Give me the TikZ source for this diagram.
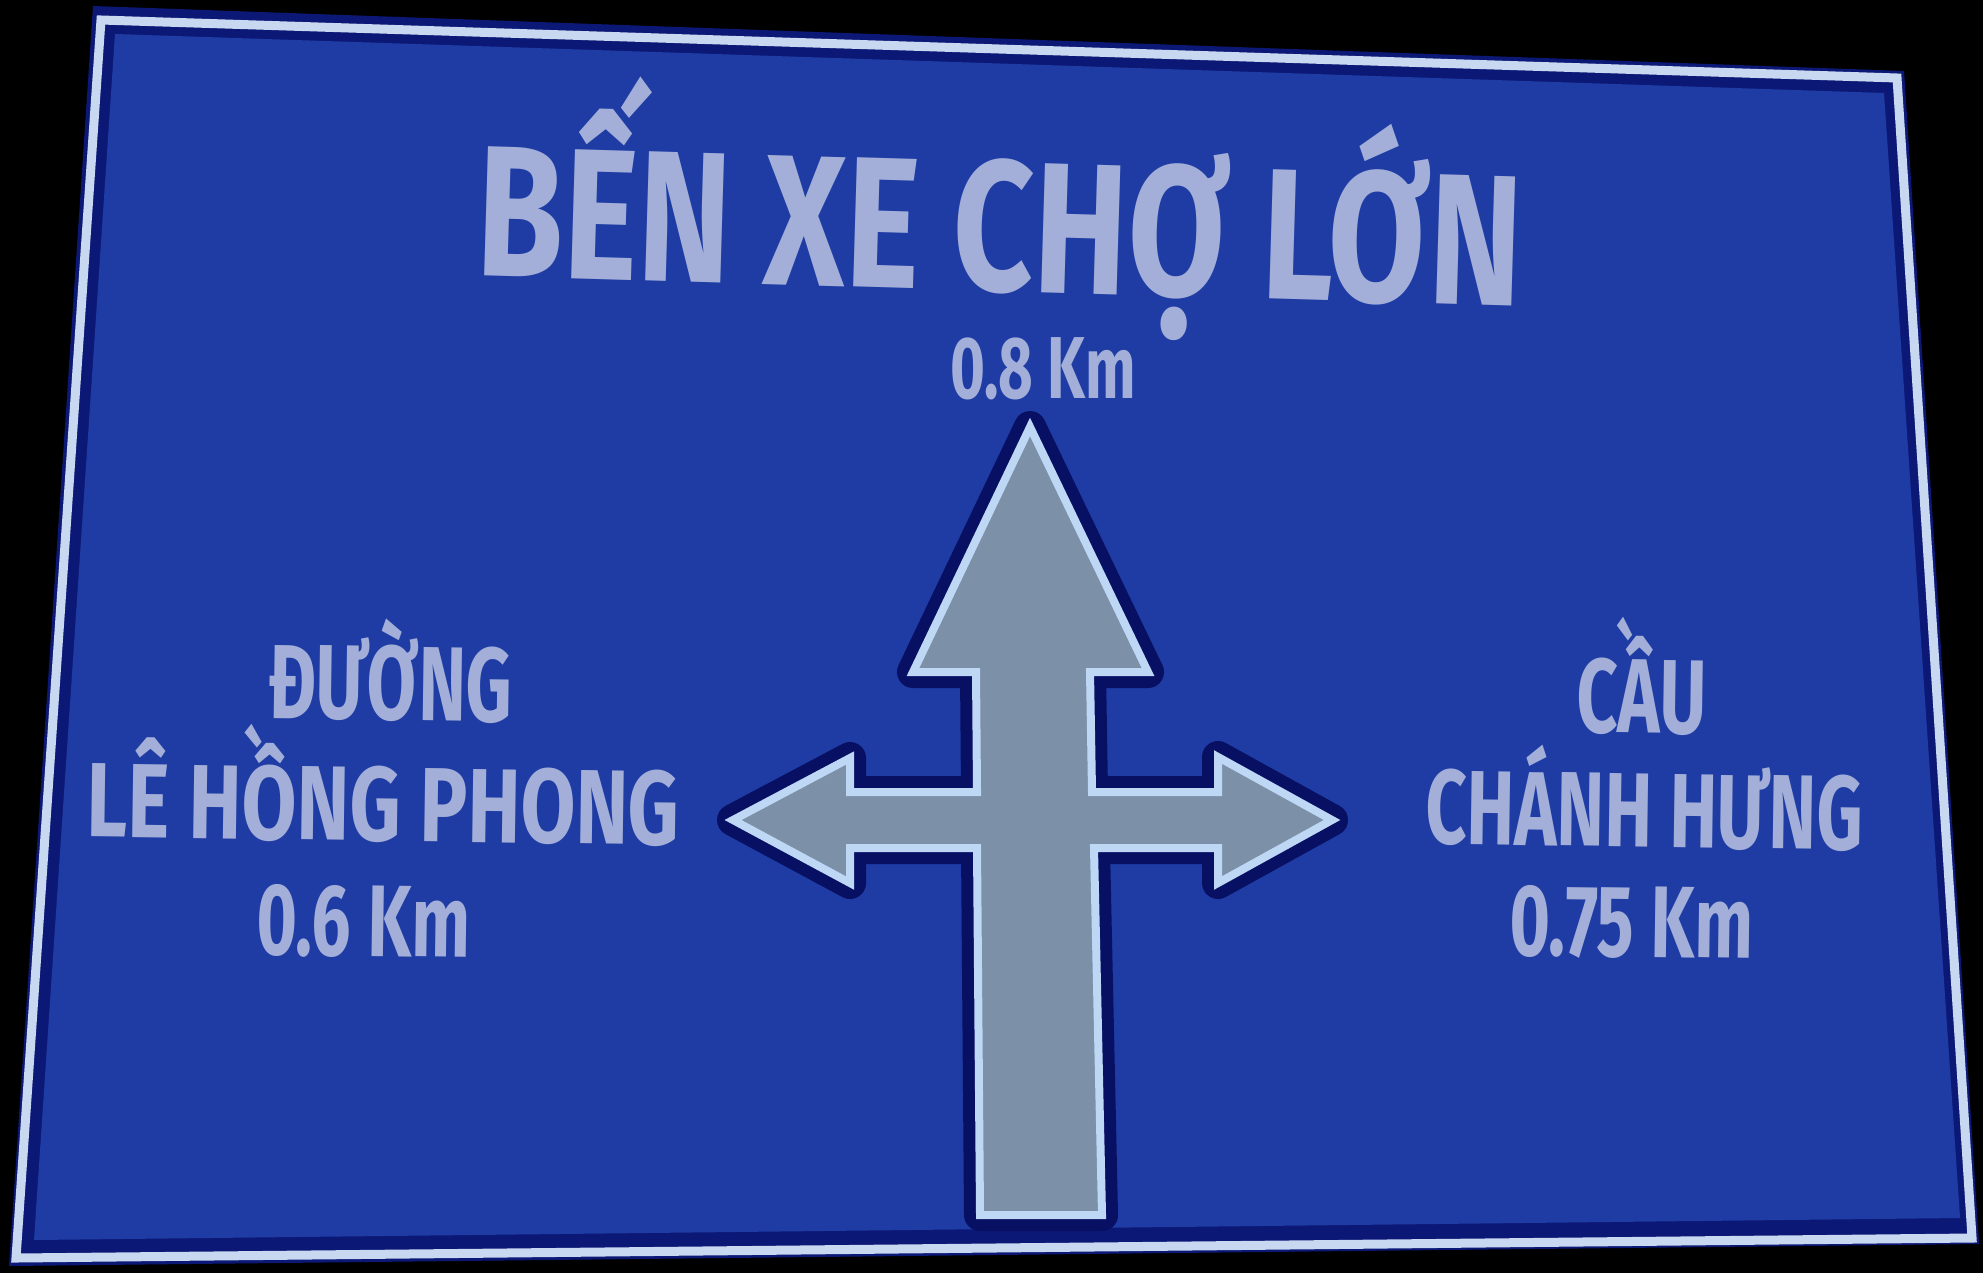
\documentclass[tikz,border=0pt]{standalone}
\usepackage{fontspec}
\setmainfont{Fira Sans}[FakeStretch=0.68]
\newfontfamily\widesign{Fira Sans}[FakeStretch=0.755]
\usepackage{tikz}

\definecolor{signblue}{RGB}{30,60,164}
\definecolor{signnavy}{RGB}{12,24,118}
\definecolor{borderwhite}{RGB}{200,216,240}
\definecolor{textlilac}{RGB}{163,175,216}
\definecolor{arrowgrey}{RGB}{124,144,168}
\definecolor{arrowedge}{RGB}{190,215,245}
\definecolor{arrowdark}{RGB}{8,16,100}

\tikzset{
	signtext/.style={text=textlilac, inner sep=0pt, anchor=base},
	titletext/.style={signtext, font=\widesign\fontsize{53}{60}\selectfont\bfseries},
	nametext/.style={signtext, font=\fontsize{30}{36}\selectfont\bfseries},
	widename/.style={signtext, font=\widesign\fontsize{30}{36}\selectfont\bfseries},
	disttext/.style={signtext, font=\fontsize{29}{34}\selectfont\bfseries}
}

\begin{document}
\begin{tikzpicture}[x=0.01cm, y=-0.01cm]
	\useasboundingbox (0,0) rectangle (1983,1273);
	\fill[black] (0,0) rectangle (1983,1273);

	% plate
	\fill[signnavy] (93,6) -- (1904,71) -- (1979,1244) -- (9,1266) -- cycle;
	\fill[signblue] (115,34) -- (1884,93) -- (1960,1218) -- (34,1240) -- cycle;
	\draw[borderwhite, line width=0.09cm] (101,20) -- (1897,78) -- (1972,1238) -- (16,1258) -- cycle;

	% arrow
	\path[fill=arrowgrey, draw=arrowedge, line width=0.08cm,
		preaction={draw=arrowdark, line width=0.32cm, line join=round}]
		(1030,427) -- (1148,672) -- (1090,672) -- (1092,792) -- (1218,792)
		-- (1218,757) -- (1332,820) -- (1218,883) -- (1218,848) -- (1094,848)
		-- (1102,1215) -- (980,1215) -- (977,848) -- (850,848) -- (850,883)
		-- (733,820) -- (850,758) -- (850,792) -- (977,792) -- (976,672)
		-- (913,672) -- cycle;

	\node (title) at (998,291) [titletext, text depth=0pt, rotate=-1.7] {BẾN XE CHỢ LỚN};
	\node (titledist) at (1043,398) [disttext, font=\fontsize{25}{30}\selectfont\bfseries] {0.8 Km};

	\node (leftname) at (390,720) [nametext, rotate=-0.8] {ĐƯỜNG};
	\node (leftstreet) at (383,841) [widename, rotate=-0.8] {LÊ HỒNG PHONG};
	\node (leftdist) at (363,956) [disttext, rotate=-0.8] {0.6 Km};

	\node (rightname) at (1641,733) [nametext, rotate=-0.8] {CẦU};
	\node (rightbridge) at (1644,847) [nametext, rotate=-0.8] {CHÁNH HƯNG};
	\node (rightdist) at (1631,957) [disttext, rotate=-0.8] {0.75 Km};
\end{tikzpicture}
\end{document}
